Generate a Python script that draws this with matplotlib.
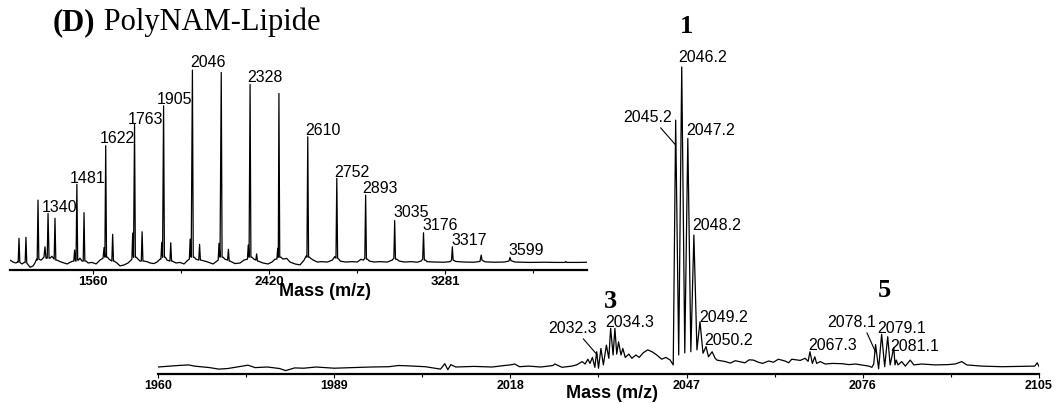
import matplotlib
matplotlib.use("Agg")
import matplotlib.pyplot as plt
from matplotlib.ticker import FixedLocator

# ---------------- data ----------------
# main (zoomed) spectrum trace: m/z and relative intensity
main_mass = [1960.0, 1963.3, 1965.0, 1966.0, 1968.5, 1970.0, 1971.5, 1973.0, 1974.8, 1976.0,
             1978.0, 1980.0, 1981.0, 1982.5, 1984.0, 1986.0, 1989.0, 1992.0, 1995.0, 1998.0,
             1999.6, 2001.0, 2004.0, 2006.5, 2007.2, 2007.7, 2008.2, 2009.0, 2012.0, 2015.0,
             2017.0, 2018.0, 2018.7, 2019.5, 2021.0, 2023.0, 2025.0, 2025.3, 2026.5, 2028.1,
             2028.9, 2029.8, 2030.3, 2030.75, 2031.1, 2031.5, 2031.9, 2032.2, 2032.5, 2032.9,
             2033.3, 2033.8, 2034.2, 2034.5, 2034.9, 2035.2, 2035.5, 2035.8, 2036.2, 2036.5,
             2036.9, 2037.5, 2038.0, 2038.65, 2039.2, 2039.9, 2040.6, 2041.3, 2042.1, 2042.9,
             2043.6, 2044.3, 2044.8, 2045.2, 2045.7, 2046.2, 2046.7, 2047.2, 2047.7, 2048.2,
             2048.7, 2049.2, 2049.7, 2050.2, 2050.6, 2051.2, 2051.7, 2052.0, 2053.4, 2054.2,
             2055.0, 2056.6, 2057.3, 2058.0, 2058.8, 2059.5, 2060.5, 2061.3, 2062.1, 2063.2,
             2063.8, 2064.3, 2065.7, 2066.5, 2067.0, 2067.3, 2067.7, 2068.1, 2068.4, 2069.0,
             2069.8, 2071.0, 2072.6, 2073.7, 2074.8, 2077.0, 2077.5, 2077.8, 2078.1, 2078.6,
             2079.1, 2079.6, 2080.1, 2080.5, 2081.1, 2081.3, 2081.5, 2081.8, 2082.4, 2083.0,
             2083.8, 2084.4, 2085.7, 2087.9, 2090.0, 2091.2, 2092.3, 2093.1, 2095.6, 2098.9,
             2102.2, 2104.3, 2104.7, 2105.0]
main_int = [0.0, 0.5, 0.7, 0.3, -0.2, -0.7, -0.5, 0.0, 0.6, -0.2,
            0.0, -0.5, -1.2, -0.3, -0.4, 0.0, -0.4, -0.2, 0.0, 0.1,
            0.5, 0.4, 0.1, -0.7, 1.1, -0.9, 0.8, 0.0, 0.2, 0.0,
            0.5, 0.7, 1.0, 0.1, 0.3, 0.0, 0.5, 1.0, -0.1, 0.3,
            0.7, 1.8, 1.0, 2.6, 1.2, 3.2, -0.1, 5.1, -0.4, 6.2,
            0.7, 7.3, 2.9, 12.9, 4.0, 12.9, 4.3, 8.4, 4.0, 6.2,
            3.2, 4.3, 2.9, 4.0, 3.2, 4.8, 5.7, 5.1, 4.0, 2.6,
            3.2, 2.3, 0.7, 82.3, 4.0, 100.0, 4.7, 76.2, 5.1, 44.0,
            5.7, 15.1, 4.6, 6.8, 3.4, 5.1, 2.9, 2.3, 1.8, 1.3,
            2.1, 1.4, 2.4, 2.3, 1.6, 1.2, 2.0, 1.6, 2.6, 2.0,
            1.4, 2.6, 2.2, 2.9, 1.9, 5.1, 1.2, 3.4, 1.2, 1.8,
            1.0, 1.2, 1.1, 0.8, 1.0, 0.3, -0.1, 1.0, 7.5, -0.6,
            10.9, 0.1, 10.1, 0.7, 6.5, 0.7, 2.3, 0.7, 1.8, 0.3,
            2.3, 0.7, 1.0, 0.7, 0.8, 1.0, 1.8, 0.7, 0.3, 0.1,
            0.2, 0.3, 1.4, 0.2]

main_ticks = [1960, 1989, 2018, 2047, 2076, 2105]
main_minor = [1974.5, 2003.5, 2032.5, 2061.5, 2090.5]

main_labels = ["2032.3", "2034.3", "2045.2", "2046.2", "2047.2", "2048.2",
               "2049.2", "2050.2", "2067.3", "2078.1", "2079.1", "2081.1"]
main_label_mass = [2032.3, 2034.3, 2045.2, 2046.2, 2047.2, 2048.2,
                   2049.2, 2050.2, 2067.3, 2078.1, 2079.1, 2081.1]
main_label_int = [4.0, 12.9, 74.0, 100.0, 76.2, 44.0, 15.1, 6.8, 5.1, 5.0, 10.9, 6.5]
cluster_names = ["3", "1", "5"]

# inset (full range) spectrum trace
inset_mass = [1154, 1169, 1183, 1193, 1194, 1198, 1202, 1213, 1223, 1228, 1232, 1236,
              1242, 1252, 1267, 1276, 1284, 1287, 1291, 1295, 1306, 1320, 1325, 1330,
              1336, 1340, 1345, 1350, 1359, 1370, 1374, 1378, 1384, 1399, 1418, 1433,
              1447, 1457, 1466, 1470, 1474, 1477, 1481, 1485, 1489, 1496, 1506, 1512,
              1516, 1520, 1526, 1536, 1555, 1575, 1594, 1609, 1614, 1618, 1622, 1626,
              1631, 1638, 1652, 1656, 1660, 1663, 1677, 1692, 1712, 1731, 1746, 1750,
              1754, 1758, 1763, 1767, 1772, 1780, 1790, 1796, 1800, 1804, 1809, 1824,
              1839, 1858, 1873, 1888, 1892, 1896, 1900, 1905, 1909, 1914, 1922, 1936,
              1940, 1944, 1947, 1966, 1985, 2005, 2024, 2031, 2035, 2040, 2046, 2050,
              2055, 2063, 2077, 2081, 2085, 2088, 2116, 2147, 2166, 2172, 2176, 2181,
              2187, 2191, 2196, 2205, 2218, 2222, 2226, 2230, 2254, 2279, 2298, 2315,
              2319, 2323, 2328, 2332, 2337, 2347, 2356, 2360, 2364, 2367, 2391, 2416,
              2435, 2450, 2459, 2463, 2466, 2469, 2473, 2479, 2489, 2507, 2523, 2548,
              2572, 2592, 2602, 2606, 2610, 2614, 2619, 2623, 2637, 2657, 2676, 2706,
              2730, 2742, 2748, 2752, 2756, 2762, 2769, 2794, 2828, 2852, 2870, 2882,
              2889, 2893, 2897, 2902, 2911, 2935, 2960, 2999, 3023, 3031, 3035, 3039,
              3045, 3057, 3082, 3116, 3145, 3164, 3172, 3176, 3180, 3186, 3193, 3228,
              3277, 3306, 3313, 3317, 3321, 3334, 3373, 3422, 3452, 3458, 3462, 3477,
              3521, 3570, 3594, 3599, 3604, 3624, 3692, 3766, 3815, 3868, 3872, 3876,
              3937, 3974]
inset_int = [1.5, 0.5, 0.0, 0.7, 0.5, 12.8, 0.3, -0.5, 0.3, 0.2, 13.3, 0.0,
             -0.8, -2.2, -1.5, 0.0, 2.0, 1.5, 32.6, 2.0, 1.5, 3.0, 8.4, 2.5,
             2.5, 25.7, 2.5, 2.5, 3.5, 2.0, 23.2, 1.5, 1.5, 0.7, 0.0, -0.5,
             0.3, 0.8, 1.0, 6.7, 1.0, 1.0, 40.8, 1.5, 1.5, 2.5, 1.0, 1.0,
             26.1, 1.0, 1.0, 0.0, 0.3, -0.5, 1.5, 2.5, 8.0, 3.0, 60.8, 3.0,
             3.0, 2.0, 1.0, 14.9, 1.0, 1.0, 0.0, -1.5, -1.0, 0.0, 1.5, 2.0,
             15.5, 3.0, 71.9, 3.0, 3.0, 2.0, 1.0, 1.0, 16.2, 1.0, 1.0, 0.7,
             0.0, -0.3, 0.5, 2.0, 2.0, 10.7, 3.0, 81.5, 3.0, 3.0, 1.5, 1.0,
             10.5, 1.0, 1.0, 0.0, 0.3, -0.5, 1.5, 2.0, 12.4, 3.0, 100.0, 3.0,
             3.0, 2.0, 1.5, 9.7, 1.5, 1.5, 0.7, -0.5, 1.0, 1.5, 10.2, 3.0,
             98.8, 3.0, 3.0, 2.0, 1.5, 7.1, 1.0, 1.0, -0.3, 0.0, 1.5, 2.0,
             9.3, 3.0, 92.6, 3.0, 3.0, 2.0, 1.5, 4.7, 1.0, 1.0, 0.0, -0.5,
             0.5, 2.0, 2.0, 7.6, 3.0, 87.9, 3.0, 3.0, 2.0, 2.4, 0.5, -0.5,
             -1.0, 1.5, 3.6, 3.0, 65.4, 3.0, 3.0, 2.5, 1.5, 0.5, 0.7, 0.5,
             1.5, 3.3, 2.5, 43.9, 2.5, 2.0, 1.0, 0.5, 0.7, 0.5, 1.9, 1.5,
             2.5, 35.2, 2.0, 2.0, 1.0, 0.5, 0.7, 0.5, 1.5, 2.5, 22.0, 2.0,
             2.0, 1.0, 0.5, 0.7, 0.4, 1.0, 2.0, 15.7, 1.5, 1.5, 0.7, 0.5,
             0.4, 0.7, 1.5, 8.4, 1.5, 0.8, 0.5, 0.4, 0.8, 4.1, 1.5, 0.6,
             0.4, 0.5, 1.0, 2.9, 1.2, 0.5, 0.3, 0.4, 0.3, 0.3, 0.8, 0.3,
             0.3, 0.4]

inset_ticks = [1560, 2420, 3281]
inset_minor = [1990, 2850, 3711]
inset_labels = ["1340", "1481", "1622", "1763", "1905", "2046", "2328",
                "2610", "2752", "2893", "3035", "3176", "3317", "3599"]
inset_label_mass = [1340, 1481, 1622, 1763, 1905, 2046, 2328,
                    2610, 2752, 2893, 3035, 3176, 3317, 3599]
inset_label_int = [25.7, 40.8, 60.8, 71.9, 81.5, 100.0, 92.6,
                   65.4, 43.9, 35.2, 22.0, 15.7, 8.4, 2.9]

title_bold = "(D)"
title_rest = " PolyNAM-Lipide"
xlabel = "Mass (m/z)"

# ---------------- layout / style ----------------
W, H = 1055, 403
SANS = "Liberation Sans"
SERIF = "Liberation Serif"

def rect(l, r, t, b):
    return [l / W, 1 - b / H, (r - l) / W, (b - t) / H]

fig = plt.figure(figsize=(W / 100, H / 100), dpi=100)

def style_axis(a, ticks, minor, lsize):
    for s in ["left", "right", "top"]:
        a.spines[s].set_visible(False)
    a.spines["bottom"].set_linewidth(1.6)
    a.patch.set_visible(False)
    a.set_yticks([])
    a.set_xticks(ticks)
    a.set_xticklabels([str(t) for t in ticks])
    a.xaxis.set_minor_locator(FixedLocator(minor))
    a.tick_params(axis="x", which="major", direction="out", length=2.6, width=0.8, pad=2.0,
                  labelsize=lsize)
    a.tick_params(axis="x", which="minor", direction="out", length=2.0, width=0.8)
    for lb in a.get_xticklabels():
        lb.set_fontweight("bold")
        lb.set_family(SANS)

# main axes
ax = fig.add_axes(rect(158, 1039, 40, 374))
ax.plot(main_mass, main_int, color="black", lw=0.9)
ax.set_xlim(1960, 2105)
ax.set_ylim(-2.33, 109)
style_axis(ax, main_ticks, main_minor, 9)

main_offsets = [(-49, 22), (-4.4, 1.3), (-52.6, 23), (-3.7, 5), (-1.7, 3.4), (-1.8, 5),
                (-0.9, -0.3), (-2, 1.6), (-1.8, 1.7), (-48.5, 25), (-4.6, 1.3), (-3.8, -3.5)]
leaders = {"2032.3": 0.67, "2045.2": 0.72, "2078.1": 0.79}
for txt, m, v, off in zip(main_labels, main_label_mass, main_label_int, main_offsets):
    kw = {}
    if txt in leaders:
        kw["arrowprops"] = dict(arrowstyle="-", lw=0.8, color="black", shrinkA=0, shrinkB=0,
                                relpos=(leaders[txt], 0))
    ax.annotate(txt, xy=(m, v), xytext=off, textcoords="offset pixels", ha="left",
                va="baseline", fontsize=11.5, family=SANS, **kw)

# cluster numbers
for name, (px, py) in zip(cluster_names, [(610, 308), (686, 33), (884, 297)]):
    fig.text(px / W, 1 - py / H, name, ha="center", va="baseline", fontsize=19,
             fontweight="bold", family=SERIF)

fig.text(612 / W, 1 - 394 / H, xlabel, ha="center", va="center", fontsize=13,
         fontweight="bold", family=SANS)

# inset axes
ax2 = fig.add_axes(rect(10, 586.7, 50, 269.5))
ax2.plot(inset_mass, inset_int, color="black", lw=0.9)
ax2.set_xlim(1154, 3974)
ax2.set_ylim(-3.37, 110.4)
style_axis(ax2, inset_ticks, inset_minor, 9.5)

inset_offsets = [(-6, 1.4), (-6.8, 1.3), (-5.7, 2.7), (-6.5, 0.5), (-6.6, 1.7), (-2.4, 3),
                 (-3.1, 2.3), (-2.7, 1.8), (-2.8, 1.3), (-3.6, 2.1), (-1.6, 3.5), (-1.5, 2.7),
                 (-1.3, 1.8), (-2, 2.4)]
for txt, m, v, off in zip(inset_labels, inset_label_mass, inset_label_int, inset_offsets):
    ax2.annotate(txt, xy=(m, v), xytext=off, textcoords="offset pixels", ha="left",
                 va="baseline", fontsize=11.5, family=SANS)

fig.text(325 / W, 1 - 292 / H, xlabel, ha="center", va="center", fontsize=13,
         fontweight="bold", family=SANS)

# title
t1 = fig.text(53 / W, 1 - 30 / H, title_bold, ha="left", va="baseline", fontsize=22,
              fontweight="bold", family=SERIF)
fig.canvas.draw()
ext = t1.get_window_extent(renderer=fig.canvas.get_renderer())
fig.text(ext.x1 / W, 1 - 30 / H, title_rest, ha="left", va="baseline", fontsize=22,
         family=SERIF)

fig.savefig("out.png", dpi=100)
